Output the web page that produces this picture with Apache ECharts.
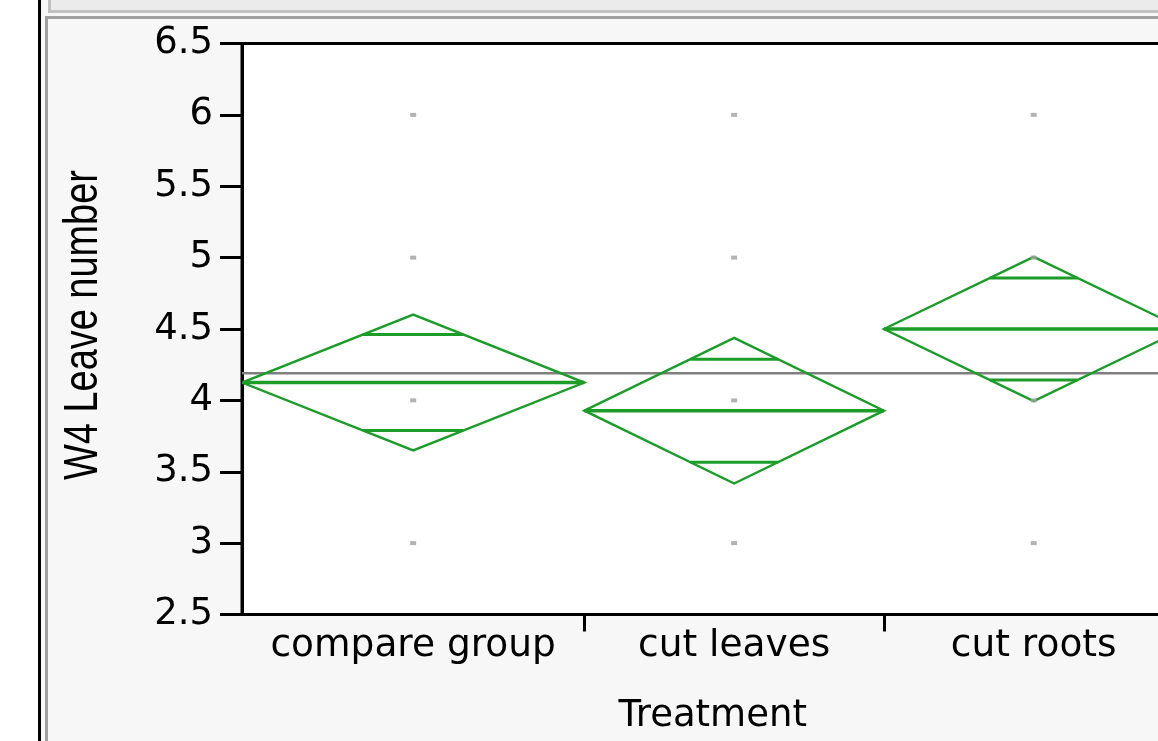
<!DOCTYPE html>
<html><head><meta charset="utf-8">
<script src="https://cdn.jsdelivr.net/npm/echarts@6/dist/echarts.min.js"></script>
<style>html,body{margin:0;padding:0;background:#f7f7f7;overflow:hidden}#c{width:1158px;height:741px}</style>
</head><body><div id="c"></div>
<script>
// ---- data ----
const categories = ['compare group', 'cut leaves', 'cut roots'];
const groupSizes = [8, 7, 7];                 // proportional group widths
const groupMeans = [4.125, 3.928, 4.5];
const ciHalfWidths = [0.476, 0.51, 0.505];    // 95% CI half-widths (diamond tops/bottoms)
const groupPoints = [[6, 5, 4, 3], [6, 5, 4, 3], [6, 5, 4, 3]];
const grandMean = 4.19;
const yMin = 2.5, yMax = 6.5, yInterval = 0.5;
const xTitle = 'Treatment';
const yTitle = 'W4 Leave number';

// ---- derived group boundaries ----
const starts = [], ends = [], centers = [];
let acc = 0;
groupSizes.forEach(function (n) { starts.push(acc); acc += n; ends.push(acc); centers.push(acc - n / 2); });
const xMax = acc;

const diamondData = categories.map(function (c, i) { return [starts[i], ends[i], groupMeans[i], ciHalfWidths[i]]; });
const pointData = [];
groupPoints.forEach(function (arr, i) { arr.forEach(function (v) { pointData.push([centers[i], v]); }); });

const GREEN = '#1c9c29';
const chart = echarts.init(document.getElementById('c'), null, {renderer: 'canvas'});
const font = 'DejaVu Sans';

chart.setOption({
  backgroundColor: '#f7f7f7',
  animation: false,
  graphic: [
    {type: 'rect', shape: {x: 0, y: 0, width: 38, height: 741}, style: {fill: '#ffffff'}, silent: true},
    {type: 'rect', shape: {x: 38, y: 0, width: 3, height: 741}, style: {fill: '#000000'}, silent: true},
    {type: 'rect', shape: {x: 48, y: 0, width: 1110, height: 10}, style: {fill: '#ebebeb'}, silent: true},
    {type: 'rect', shape: {x: 48, y: 0, width: 3, height: 13}, style: {fill: '#c0c0c0'}, silent: true},
    {type: 'rect', shape: {x: 48, y: 10, width: 1110, height: 3}, style: {fill: '#c0c0c0'}, silent: true},
    {type: 'rect', shape: {x: 45, y: 16, width: 1113, height: 3}, style: {fill: '#a0a0a0'}, silent: true},
    {type: 'rect', shape: {x: 45, y: 16, width: 3, height: 725}, style: {fill: '#a0a0a0'}, silent: true},
    {type: 'text', x: 84, y: 325, rotation: Math.PI / 2, scaleX: 0.79, scaleY: 1,
     style: {text: yTitle, font: "48px 'Liberation Sans', Arial, sans-serif", fill: '#000', textAlign: 'center', textVerticalAlign: 'middle'}}
  ],
  grid: {left: 242, top: 43.5, width: 941.5, height: 571, outerBoundsMode: 'none', containLabel: false,
         show: true, backgroundColor: '#ffffff', borderColor: '#000', borderWidth: 3},
  xAxis: {
    type: 'value', min: 0, max: xMax,
    name: xTitle, nameLocation: 'middle', nameGap: 83,
    nameTextStyle: {fontFamily: font, fontSize: 37, color: '#000'},
    axisLine: {lineStyle: {color: '#000', width: 3}},
    axisTick: {show: true, customValues: ends.slice(0, -1), length: 17, lineStyle: {color: '#000', width: 3}},
    axisLabel: {customValues: centers, margin: 13, fontFamily: font, fontSize: 37.5, color: '#000',
      formatter: function (v) { const i = centers.indexOf(v); return i >= 0 ? categories[i] : ''; }},
    splitLine: {show: false}
  },
  yAxis: {
    type: 'value', min: yMin, max: yMax, interval: yInterval,
    axisLine: {show: true, lineStyle: {color: '#000', width: 3}},
    axisTick: {show: true, length: 22, lineStyle: {color: '#000', width: 3}},
    axisLabel: {margin: 29, fontFamily: font, fontSize: 37, color: '#000', showMinLabel: true, showMaxLabel: true},
    splitLine: {show: false}
  },
  series: [
    {
      type: 'line', name: 'grand mean', data: [[0, grandMean], [xMax, grandMean]],
      symbol: 'none', lineStyle: {color: '#7f7f7f', width: 2.5}, z: 2, silent: true
    },
    {
      type: 'custom', name: 'means diamonds', data: diamondData, clip: true, z: 3,
      renderItem: function (params, api) {
        const x0 = api.value(0), x1 = api.value(1), m = api.value(2), ci = api.value(3);
        const xc = (x0 + x1) / 2;
        const L = api.coord([x0, m]), R = api.coord([x1, m]);
        const T = api.coord([xc, m + ci]), B = api.coord([xc, m - ci]);
        const d = ci / Math.SQRT2;
        const hw = (x1 - x0) / 2 * (1 - 1 / Math.SQRT2);
        const a1 = api.coord([xc - hw, m + d]), b1 = api.coord([xc + hw, m + d]);
        const a2 = api.coord([xc - hw, m - d]), b2 = api.coord([xc + hw, m - d]);
        return {type: 'group', children: [
          {type: 'polygon', shape: {points: [L, T, R, B]}, style: {fill: 'none', stroke: GREEN, lineWidth: 2.4}},
          {type: 'line', shape: {x1: L[0], y1: L[1], x2: R[0], y2: R[1]}, style: {stroke: GREEN, lineWidth: 3.5}},
          {type: 'line', shape: {x1: a1[0], y1: a1[1], x2: b1[0], y2: b1[1]}, style: {stroke: GREEN, lineWidth: 3}},
          {type: 'line', shape: {x1: a2[0], y1: a2[1], x2: b2[0], y2: b2[1]}, style: {stroke: GREEN, lineWidth: 3}}
        ]};
      }
    },
    {
      type: 'scatter', name: 'points', data: pointData, symbol: 'rect', symbolSize: [6, 4],
      itemStyle: {color: '#a0a0a0'}, z: 4, silent: true
    }
  ]
});
</script></body></html>
